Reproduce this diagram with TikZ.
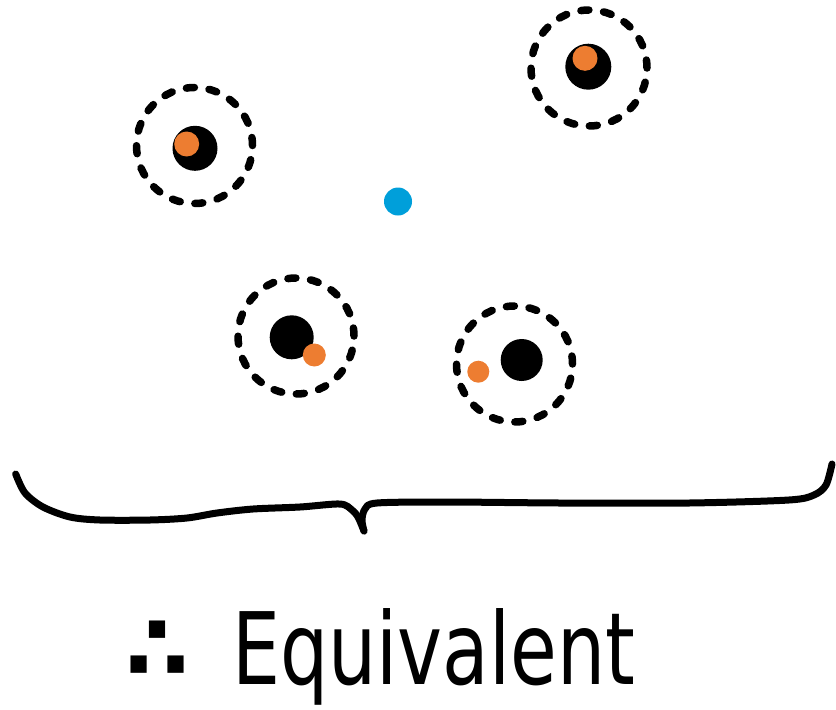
\documentclass[tikz,border=0pt]{standalone}
\usepackage{fontspec}
\setmainfont{DejaVu Sans}

\definecolor{dotorange}{HTML}{ED7D31}
\definecolor{dotblue}{HTML}{009FDA}

\begin{document}
\begin{tikzpicture}[
x=1pt, y=-1pt,
ring/.style={circle, draw, line width=7.5pt, dash pattern=on 8pt off 14.8pt, line cap=round, minimum size=116pt, inner sep=0pt},
core/.style={circle, fill=black, inner sep=0pt},
spot/.style={circle, fill=dotorange, inner sep=0pt},
brace/.style={line width=7pt, line cap=round, line join=round},
word/.style={font=\fontsize{100}{100}\selectfont, inner sep=0pt} ]

\useasboundingbox (0,0) rectangle (836,710);

\node[ring] (ringA) at (194.5,145.5) {};

\node[core, minimum size=45pt] (coreA) at (195,148.3) {};

\node[spot, minimum size=25pt] (spotA) at (186.7,144) {};

\node[ring] (ringB) at (589,68) {};

\node[core, minimum size=46pt] (coreB) at (588.3,66.7) {};

\node[spot, minimum size=25pt] (spotB) at (585,58.3) {};

\node[circle, fill=dotblue, inner sep=0pt, minimum size=28pt] (probe) at (398,201.5) {};

\node[ring] (ringC) at (296,336) {};

\node[core, minimum size=44pt] (coreC) at (291.7,337.3) {};

\node[spot, minimum size=23pt] (spotC) at (314.3,355) {};

\node[ring] (ringD) at (514.5,364) {};

\node[core, minimum size=42pt] (coreD) at (521.7,360) {};

\node[spot, minimum size=22pt] (spotD) at (478.3,371.7) {};

% curly brace under the four rings
\draw[brace] plot[smooth, tension=0.5] coordinates {(15.7,474) (25,493) (43,507) (70,517) (100,520) (150,520) (187,518) (217,513) (253,509) (300,507) (340,504) (352,510) (358,517) (364,531)};
\draw[brace] plot[smooth, tension=0.5] coordinates {(364,531) (362,520) (365,509) (377,503) (447,502) (560,503) (689,503) (789,500) (814,495) (826,485) (832,464)};

\node[word, font=\fontsize{92}{92}\selectfont\bfseries] (therefore) at (158,651) {∴};

\node[word, anchor=base west] (result) at (232,684) {\scalebox{0.76}[1]{Equivalent}};

\end{tikzpicture}
\end{document}
